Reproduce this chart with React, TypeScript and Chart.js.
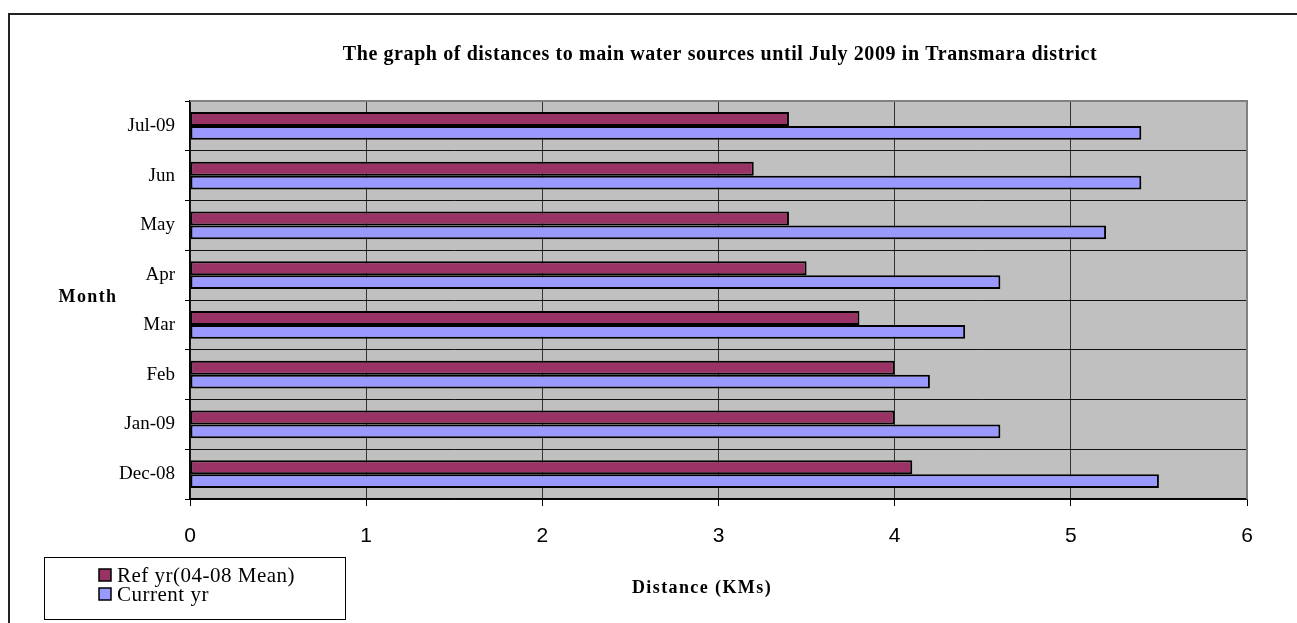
import React, { useEffect, useRef } from "react";
import { Chart, registerables } from "chart.js";

Chart.register(...registerables);

const categories = ["Jul-09", "Jun", "May", "Apr", "Mar", "Feb", "Jan-09", "Dec-08"];
const refYr = [3.4, 3.2, 3.4, 3.5, 3.8, 4.0, 4.0, 4.1];
const currentYr = [5.4, 5.4, 5.2, 4.6, 4.4, 4.2, 4.6, 5.5];
const seriesLabels = ["Ref yr(04-08 Mean)", "Current yr"];
const seriesColors = ["#993366", "#9999FF"];
const xMin = 0;
const xMax = 6;
const titleText = "The graph of distances to main water sources until July 2009 in Transmara district";
const yTitleText = "Month";
const xTitleText = "Distance (KMs)";

const W = 1297;
const H = 623;

const decorPlugin = {
  id: "decor",
  beforeDraw(chart: any) {
    const { ctx, chartArea } = chart;
    ctx.save();
    ctx.fillStyle = "#ffffff";
    ctx.fillRect(0, 0, chart.width, chart.height);
    ctx.fillStyle = "#C0C0C0";
    ctx.fillRect(chartArea.left, chartArea.top, chartArea.right - chartArea.left, chartArea.bottom - chartArea.top);
    ctx.restore();
  },
  afterDraw(chart: any) {
    const { ctx, chartArea } = chart;
    ctx.save();
    // plot border top & right (gray)
    ctx.strokeStyle = "#808080";
    ctx.lineWidth = 2;
    ctx.beginPath();
    ctx.moveTo(chartArea.left, chartArea.top);
    ctx.lineTo(chartArea.right, chartArea.top);
    ctx.lineTo(chartArea.right, chartArea.bottom);
    ctx.stroke();

    // outer frame
    ctx.strokeStyle = "#222";
    ctx.lineWidth = 2;
    ctx.strokeRect(9, 14, 1400, 700);

    // title
    ctx.fillStyle = "#000";
    ctx.textAlign = "center";
    ctx.textBaseline = "middle";
    ctx.font = "bold 20px 'Liberation Serif'";
    (ctx as any).letterSpacing = "0.6px";
    ctx.fillText(titleText, 720, 55);

    // axis titles
    ctx.font = "bold 18px 'Liberation Serif'";
    (ctx as any).letterSpacing = "1.4px";
    ctx.fillText(yTitleText, 88, 297);
    ctx.fillText(xTitleText, 702, 588);

    // legend
    ctx.strokeStyle = "#000";
    ctx.lineWidth = 1;
    ctx.strokeRect(44.5, 557.5, 301, 62);
    ctx.font = "21px 'Liberation Serif'";
    (ctx as any).letterSpacing = "0.5px";
    ctx.textAlign = "left";
    chart.data.datasets.forEach((ds: any, i: number) => {
      const cy = 575 + i * 19;
      ctx.fillStyle = ds.backgroundColor;
      ctx.fillRect(99, cy - 6, 12, 12);
      ctx.strokeStyle = "#000";
      ctx.lineWidth = 1.5;
      ctx.strokeRect(99, cy - 6, 12, 12);
      ctx.fillStyle = "#000";
      ctx.fillText(ds.label, 117, cy + 1);
    });
    (ctx as any).letterSpacing = "0px";
    ctx.restore();
  },
};

export default function App() {
  const ref = useRef<HTMLCanvasElement | null>(null);
  useEffect(() => {
    if (!ref.current) return;
    const chart = new Chart(ref.current, {
      type: "bar",
      data: {
        labels: categories,
        datasets: [
          {
            label: seriesLabels[0],
            data: refYr,
            backgroundColor: seriesColors[0],
            borderColor: "#000",
            borderWidth: 2,
            borderSkipped: false,
          },
          {
            label: seriesLabels[1],
            data: currentYr,
            backgroundColor: seriesColors[1],
            borderColor: "#000",
            borderWidth: 2,
            borderSkipped: false,
          },
        ],
      },
      options: {
        indexAxis: "y",
        responsive: false,
        animation: false,
        devicePixelRatio: 1,
        datasets: { bar: { categoryPercentage: 0.56, barPercentage: 1 } },
        layout: { padding: { left: 0, top: 101, right: 50, bottom: 0 } },
        plugins: {
          legend: { display: false },
          tooltip: { enabled: false },
          title: { display: false },
        },
        scales: {
          x: {
            type: "linear",
            min: xMin,
            max: xMax,
            ticks: {
              stepSize: 1,
              color: "#000",
              padding: 18,
              font: { family: "'Liberation Sans'", size: 21 },
            },
            grid: { color: "#333", lineWidth: 1, tickLength: 7, tickColor: "#000" },
            border: { color: "#000", width: 1.5 },
            afterFit: (s: any) => {
              s.height = 124;
            },
          },
          y: {
            type: "category",
            ticks: {
              color: "#000",
              padding: 10,
              font: { family: "'Liberation Serif'", size: 19 },
            },
            grid: { color: "#111", lineWidth: 1, tickLength: 5, tickColor: "#000", offset: true },
            border: { color: "#000", width: 1.5 },
            afterFit: (s: any) => {
              s.width = 190;
            },
          },
        },
      },
      plugins: [decorPlugin],
    } as any);
    return () => chart.destroy();
  }, []);
  return (
    <div style={{ position: "absolute", left: 0, top: 0, width: W, height: H }}>
      <canvas ref={ref} width={W} height={H} style={{ display: "block", width: W, height: H }} />
    </div>
  );
}
